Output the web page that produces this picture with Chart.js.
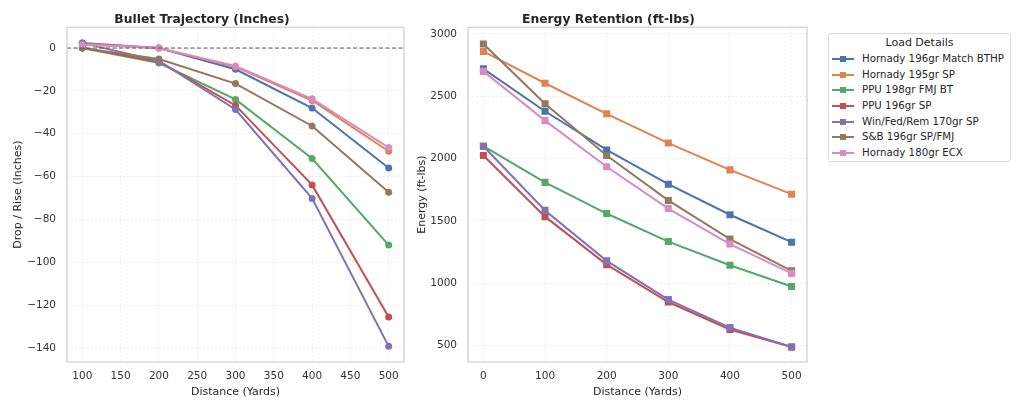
<!DOCTYPE html>
<html>
<head>
<meta charset="utf-8">
<script src="https://cdn.jsdelivr.net/npm/chart.js@4.4.1/dist/chart.umd.min.js"></script>
<style>
  html, body { margin: 0; padding: 0; background: #fff; }
  #wrap { position: relative; width: 1024px; height: 410px; font-family: "DejaVu Sans", sans-serif; }
  .box { position: absolute; top: 0; height: 410px; }
  #legend {
    position: absolute; left: 828px; top: 33px; width: 183px; height: 129px;
    border: 1px solid #dcdcdc; border-radius: 3px; box-sizing: border-box;
    color: #262626; font-size: 10.25px;
  }
  #legend .ttl { text-align: center; font-size: 11px; margin-top: 1px; height: 16px; line-height: 16px; }
  #legend .row { position: relative; height: 15.7px; line-height: 15.7px; padding-left: 33px; white-space: nowrap; }
  #legend .ln { position: absolute; left: 3px; top: 7px; width: 22px; height: 2px; }
  #legend .sq { position: absolute; left: 11px; top: 5px; width: 6px; height: 6px; }
</style>
</head>
<body>
<div id="wrap">
  <div class="box" style="left:0;width:410px"><canvas id="dropChart" width="410" height="410"></canvas></div>
  <div class="box" style="left:410px;width:410px"><canvas id="energyChart" width="410" height="410"></canvas></div>
  <div id="legend"></div>
</div>
<script>
// 数据
const loads = ['Hornady 196gr Match BTHP', 'Hornady 195gr SP', 'PPU 198gr FMJ BT', 'PPU 196gr SP',
               'Win/Fed/Rem 170gr SP', 'S&B 196gr SP/FMJ', 'Hornady 180gr ECX'];
const colors = ['#4C72B0', '#DD8452', '#55A868', '#C44E52', '#8172B3', '#937860', '#DA8BC3'];

const dropDistances = [100, 200, 300, 400, 500];
const dropHornady196 = [2.3, 0, -9.9, -28, -56];
const dropHornady195 = [2.0, 0, -8.8, -24.5, -48.2];
const dropPpu198 = [0, -7, -24, -51.6, -92];
const dropPpu196 = [0, -6.3, -26.8, -63.9, -125.6];
const dropWin170 = [2.3, -6, -28.7, -70.2, -139.3];
const dropSb196 = [0, -5.1, -16.6, -36.4, -67.3];
const dropEcx180 = [1.5, 0, -8.4, -23.7, -46.5];

const energyDistances = [0, 100, 200, 300, 400, 500];
const energyHornady196 = [2720, 2380, 2070, 1795, 1550, 1330];
const energyHornady195 = [2860, 2605, 2360, 2125, 1910, 1715];
const energyPpu198 = [2100, 1810, 1560, 1335, 1145, 975];
const energyPpu196 = [2025, 1535, 1150, 850, 630, 490];
const energyWin170 = [2100, 1585, 1180, 870, 645, 490];
const energySb196 = [2920, 2440, 2025, 1665, 1355, 1100];
const energyEcx180 = [2700, 2305, 1935, 1600, 1315, 1080];

const dropXTicks = [100, 150, 200, 250, 300, 350, 400, 450, 500];
const dropYTicks = [0, -20, -40, -60, -80, -100, -120, -140];
const energyXTicks = [0, 100, 200, 300, 400, 500];
const energyYTicks = [500, 1000, 1500, 2000, 2500, 3000];

const dropSeries = [dropHornady196, dropHornady195, dropPpu198, dropPpu196, dropWin170, dropSb196, dropEcx180];
const energySeries = [energyHornady196, energyHornady195, energyPpu198, energyPpu196, energyWin170, energySb196, energyEcx180];

const textColor = '#262626';
const tickColor = '#333333';
Chart.defaults.font.family = '"DejaVu Sans", sans-serif';

// 边框和零线
const framePlugin = {
    id: 'frame',
    afterDatasetsDraw(chart, args, opts) {
        const { ctx, chartArea: a } = chart;
        ctx.save();
        if (opts.zeroLine) {
            const y = chart.scales.y.getPixelForValue(0);
            ctx.strokeStyle = '#555';
            ctx.lineWidth = 1;
            ctx.setLineDash([4, 2.5]);
            ctx.beginPath();
            ctx.moveTo(a.left, y);
            ctx.lineTo(a.right, y);
            ctx.stroke();
            ctx.setLineDash([]);
        }
        ctx.strokeStyle = '#d0d0d0';
        ctx.lineWidth = 1.25;
        ctx.strokeRect(a.left, a.top, a.right - a.left, a.bottom - a.top);
        ctx.restore();
    }
};

function minus(v) {
    return String(v).replace('-', '\u2212');
}

function makeDatasets(xs, series, style, radius) {
    return series.map((vals, i) => ({
        label: loads[i],
        data: vals.map((v, j) => ({ x: xs[j], y: v })),
        borderColor: colors[i],
        backgroundColor: colors[i],
        borderWidth: 2,
        pointStyle: style,
        pointRadius: radius,
        pointHoverRadius: radius,
        pointBorderWidth: 0,
        order: series.length - i
    }));
}

function makeOptions(cfg) {
    return {
        responsive: false,
        animation: false,
        layout: { padding: cfg.padding },
        plugins: {
            legend: { display: false },
            tooltip: { enabled: false },
            title: {
                display: true,
                text: cfg.title,
                color: textColor,
                font: { size: 12.3, weight: 'bold' },
                padding: { top: 12.5, bottom: 0 }
            },
            frame: { zeroLine: cfg.zeroLine }
        },
        scales: {
            x: {
                type: 'linear',
                min: cfg.xMin,
                max: cfg.xMax,
                afterBuildTicks: axis => { axis.ticks = cfg.xTicks.map(v => ({ value: v })); },
                afterFit: axis => { axis.height = 48; },
                grid: { color: 'rgba(0,0,0,0.08)', lineWidth: 0.8, drawTicks: false },
                border: { display: false, dash: [2, 2] },
                ticks: { color: tickColor, font: { size: 10.5 }, padding: 8, maxRotation: 0 },
                title: {
                    display: true, text: 'Distance (Yards)', color: textColor,
                    font: { size: 11 }, padding: { top: 0, bottom: 11 }
                }
            },
            y: {
                min: cfg.yMin,
                max: cfg.yMax,
                afterBuildTicks: axis => { axis.ticks = cfg.yTicks.map(v => ({ value: v })); },
                afterFit: axis => { axis.width = cfg.yWidth; },
                grid: { color: 'rgba(0,0,0,0.08)', lineWidth: 0.8, drawTicks: false },
                border: { display: false, dash: [2, 2] },
                ticks: { color: tickColor, font: { size: 10.5 }, padding: 11, callback: v => minus(v) },
                title: {
                    display: true, text: cfg.yTitle, color: textColor,
                    font: { size: 11 }, padding: { top: cfg.yTitlePad, bottom: 0 }
                }
            }
        }
    };
}

new Chart(document.getElementById('dropChart'), {
    type: 'line',
    data: { datasets: makeDatasets(dropDistances, dropSeries, 'circle', 3.5) },
    options: makeOptions({
        title: 'Bullet Trajectory (Inches)',
        xMin: 80, xMax: 520, xTicks: dropXTicks,
        yMin: -146.6, yMax: 9.7, yTicks: dropYTicks,
        yTitle: 'Drop / Rise (Inches)', yWidth: 67, yTitlePad: 11.5,
        padding: { left: 0, right: 6, top: 0, bottom: 0 },
        zeroLine: true
    }),
    plugins: [framePlugin]
});

new Chart(document.getElementById('energyChart'), {
    type: 'line',
    data: { datasets: makeDatasets(energyDistances, energySeries, 'rect', 5) },
    options: makeOptions({
        title: 'Energy Retention (ft-lbs)',
        xMin: -25, xMax: 525, xTicks: energyXTicks,
        yMin: 369, yMax: 3054, yTicks: energyYTicks,
        yTitle: 'Energy (ft-lbs)', yWidth: 58, yTitlePad: 6,
        padding: { left: 0, right: 13, top: 0, bottom: 0 },
        zeroLine: false
    }),
    plugins: [framePlugin]
});

// 图例
const legend = document.getElementById('legend');
legend.innerHTML = '<div class="ttl">Load Details</div>' + loads.map((name, i) =>
    `<div class="row"><span class="ln" style="background:${colors[i]}"></span>` +
    `<span class="sq" style="background:${colors[i]}"></span>${name.replace('&', '&amp;')}</div>`
).join('');
</script>
</body>
</html>
